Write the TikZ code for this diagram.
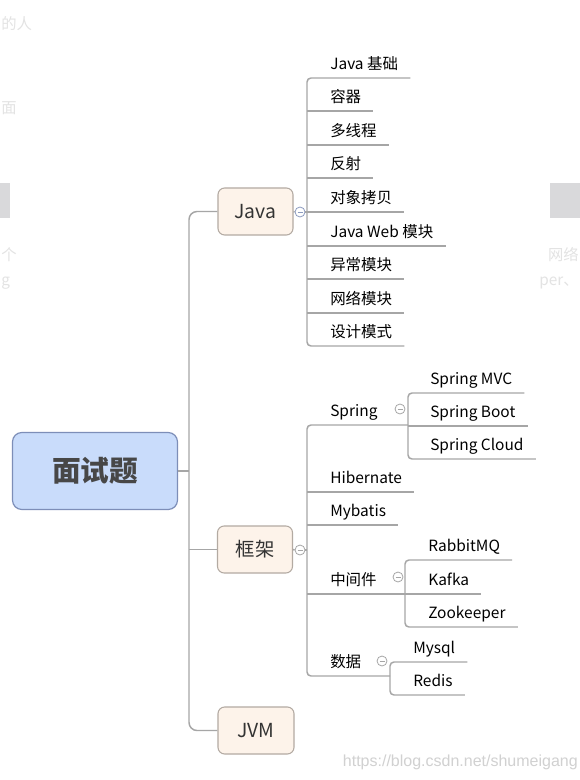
\documentclass[tikz,border=0pt]{standalone}
\usepackage{fontspec}
\setmainfont{Noto Sans CJK SC}
\newfontfamily\markfont{Liberation Sans}
\usetikzlibrary{calc}

\definecolor{branchgray}{HTML}{A6A6A6}
\definecolor{topicfill}{HTML}{FDF3EA}
\definecolor{topicline}{HTML}{B3AAA2}
\definecolor{rootfill}{HTML}{C9DCFB}
\definecolor{rootline}{HTML}{7D8EB8}
\definecolor{roottext}{HTML}{474747}
\definecolor{foldblue}{HTML}{8C9BC0}
\definecolor{ghost}{HTML}{E3E3E3}
\definecolor{ghostblock}{HTML}{D9D9DB}

\begin{document}
\begin{tikzpicture}[x=0.75pt, y=-0.75pt,
    root/.style={draw=rootline, fill=rootfill, line width=0.9pt, rounded corners=7pt,
        minimum width=123.75pt, minimum height=57.75pt,
        font=\fontsize{21.5pt}{24pt}\selectfont\bfseries, text=roottext},
    topic/.style={draw=topicline, fill=topicfill, line width=0.8pt, rounded corners=5pt,
        minimum width=56.25pt, minimum height=35.25pt,
        font=\fontsize{14.5pt}{17pt}\selectfont, text=black!80},
    leaf/.style={anchor=south west, inner xsep=0pt, inner ysep=6pt, text depth=0pt,
        font=\fontsize{11.6pt}{14pt}\selectfont},
    branch/.style={draw=branchgray, line width=1.1pt},
    fold/.style={circle, draw=branchgray, fill=white, line width=0.6pt,
        minimum size=7.5pt, inner sep=0pt},
    ghosttext/.style={text=ghost, inner sep=0pt, font=\fontsize{11.5pt}{14pt}\selectfont}
]
    \useasboundingbox[fill=white] (0,0) rectangle (580,780);

    % 背景残影
    \fill[ghostblock] (0,183) rectangle (10,218);
    \fill[ghostblock] (550,183) rectangle (580,218);
    \node[ghosttext, anchor=west] (gh1) at (1,24) {的人};
    \node[ghosttext, anchor=west] (gh2) at (1,108) {面};
    \node[ghosttext, anchor=west] (gh3) at (1,255) {个};
    \node[ghosttext, anchor=west] (gh4) at (1,283) {g};
    \node[ghosttext, anchor=east] (gh5) at (579,255) {网络};
    \node[ghosttext, anchor=east] (gh6) at (579,283) {per、};

    % 中心主题
    \node[root] (root) at (95,471) {面试题};

    % 分支主题
    \node[topic] (java) at (255.5,211.5) {Java};
    \node[topic] (kuangjia) at (255,549.5) {框架};
    \node[topic, minimum width=57pt] (jvm) at (256,730.5) {JVM};

    \coordinate (rt) at (189,0);
    \draw[branch] (root.east) -- (rt |- root.east);
    \draw[branch, rounded corners=6pt] (java.west) -- (rt |- java.west) -- (rt |- jvm.west) -- (jvm.west);
    \draw[branch] (kuangjia.west) -- (rt |- kuangjia.west);

    % Java
    \coordinate (jt) at (307,0);
    \node[fold, draw=foldblue] (jfold) at (300,212) {};
    \draw[branch] (java.east) -- (jfold.west);
    \draw[branch] (jfold.east) -- (jt |- jfold.east);
    \foreach \name/\y/\txt in {j1/78/Java 基础, j2/111/容器, j3/145/多线程, j4/178/反射,
        j5/212/对象拷贝, j6/246/Java Web 模块, j7/279/异常模块, j8/313/网络模块, j9/346/设计模式}
        \node[leaf] (\name) at (330,\y) {\txt};
    \draw[branch, rounded corners=3pt] ($(j1.south east)+(12,0)$) -- (jt |- j1.south)
        -- (jt |- j9.south) -- ($(j9.south east)+(12,0)$);
    \foreach \name in {j2,j3,j4,j5,j6,j7,j8}
        \draw[branch] (jt |- \name.south) -- ($(\name.south east)+(12,0)$);

    % 框架
    \coordinate (kt) at (307,0);
    \coordinate (st) at (408,0);
    \coordinate (mt) at (405,0);
    \coordinate (dt) at (390,0);
    \node[fold] (kfold) at (300,550) {};
    \draw[branch] (kuangjia.east) -- (kfold.west);
    \draw[branch] (kfold.east) -- (kt |- kfold.east);
    \node[leaf] (spring) at (330,425) {Spring};
    \node[leaf] (hib) at (330,492) {Hibernate};
    \node[leaf] (myb) at (330,525) {Mybatis};
    \node[leaf] (mid) at (330,594) {中间件};
    \node[leaf] (data) at (330,676) {数据};
    \draw[branch, rounded corners=3pt] (st |- spring.south) -- (kt |- spring.south)
        -- (kt |- data.south) -- (dt |- data.south);
    \draw[branch] (kt |- hib.south) -- ($(hib.south east)+(12,0)$);
    \draw[branch] (kt |- myb.south) -- ($(myb.south east)+(12,0)$);
    \draw[branch] (kt |- mid.south) -- (mt |- mid.south);

    % Spring
    \node[fold] (sfold) at (400,409) {};
    \node[leaf] (s1) at (430,393) {Spring MVC};
    \node[leaf] (s2) at (430,426) {Spring Boot};
    \node[leaf] (s3) at (430,459) {Spring Cloud};
    \draw[branch, rounded corners=3pt] ($(s1.south east)+(12,0)$) -- (st |- s1.south)
        -- (st |- s3.south) -- ($(s3.south east)+(12,0)$);
    \draw[branch] (st |- s2.south) -- ($(s2.south east)+(12,0)$);

    % 中间件
    \node[fold] (mfold) at (398,577) {};
    \node[leaf] (m1) at (428,560) {RabbitMQ};
    \node[leaf] (m2) at (428,594) {Kafka};
    \node[leaf] (m3) at (428,627) {Zookeeper};
    \draw[branch, rounded corners=3pt] ($(m1.south east)+(12,0)$) -- (mt |- m1.south)
        -- (mt |- m3.south) -- ($(m3.south east)+(12,0)$);
    \draw[branch] (mt |- m2.south) -- ($(m2.south east)+(12,0)$);

    % 数据
    \node[fold] (dfold) at (382,661) {};
    \node[leaf] (d1) at (413,662) {Mysql};
    \node[leaf] (d2) at (413,695) {Redis};
    \draw[branch, rounded corners=3pt] ($(d1.south east)+(12,0)$) -- (dt |- d1.south)
        -- (dt |- d2.south) -- ($(d2.south east)+(12,0)$);

    % 折叠符号
    \draw[foldblue, line width=0.6pt] ($(jfold.center)+(-2.5,0)$) -- ($(jfold.center)+(2.5,0)$);
    \foreach \f in {kfold,sfold,mfold,dfold}
        \draw[branchgray, line width=0.6pt] ($(\f.center)+(-2.5,0)$) -- ($(\f.center)+(2.5,0)$);

    % 水印
    \node[ghosttext, text=black!18, anchor=east, font=\markfont\fontsize{12pt}{14pt}\selectfont]
        (mark) at (578,762) {https://blog.csdn.net/shumeigang};
\end{tikzpicture}
\end{document}
